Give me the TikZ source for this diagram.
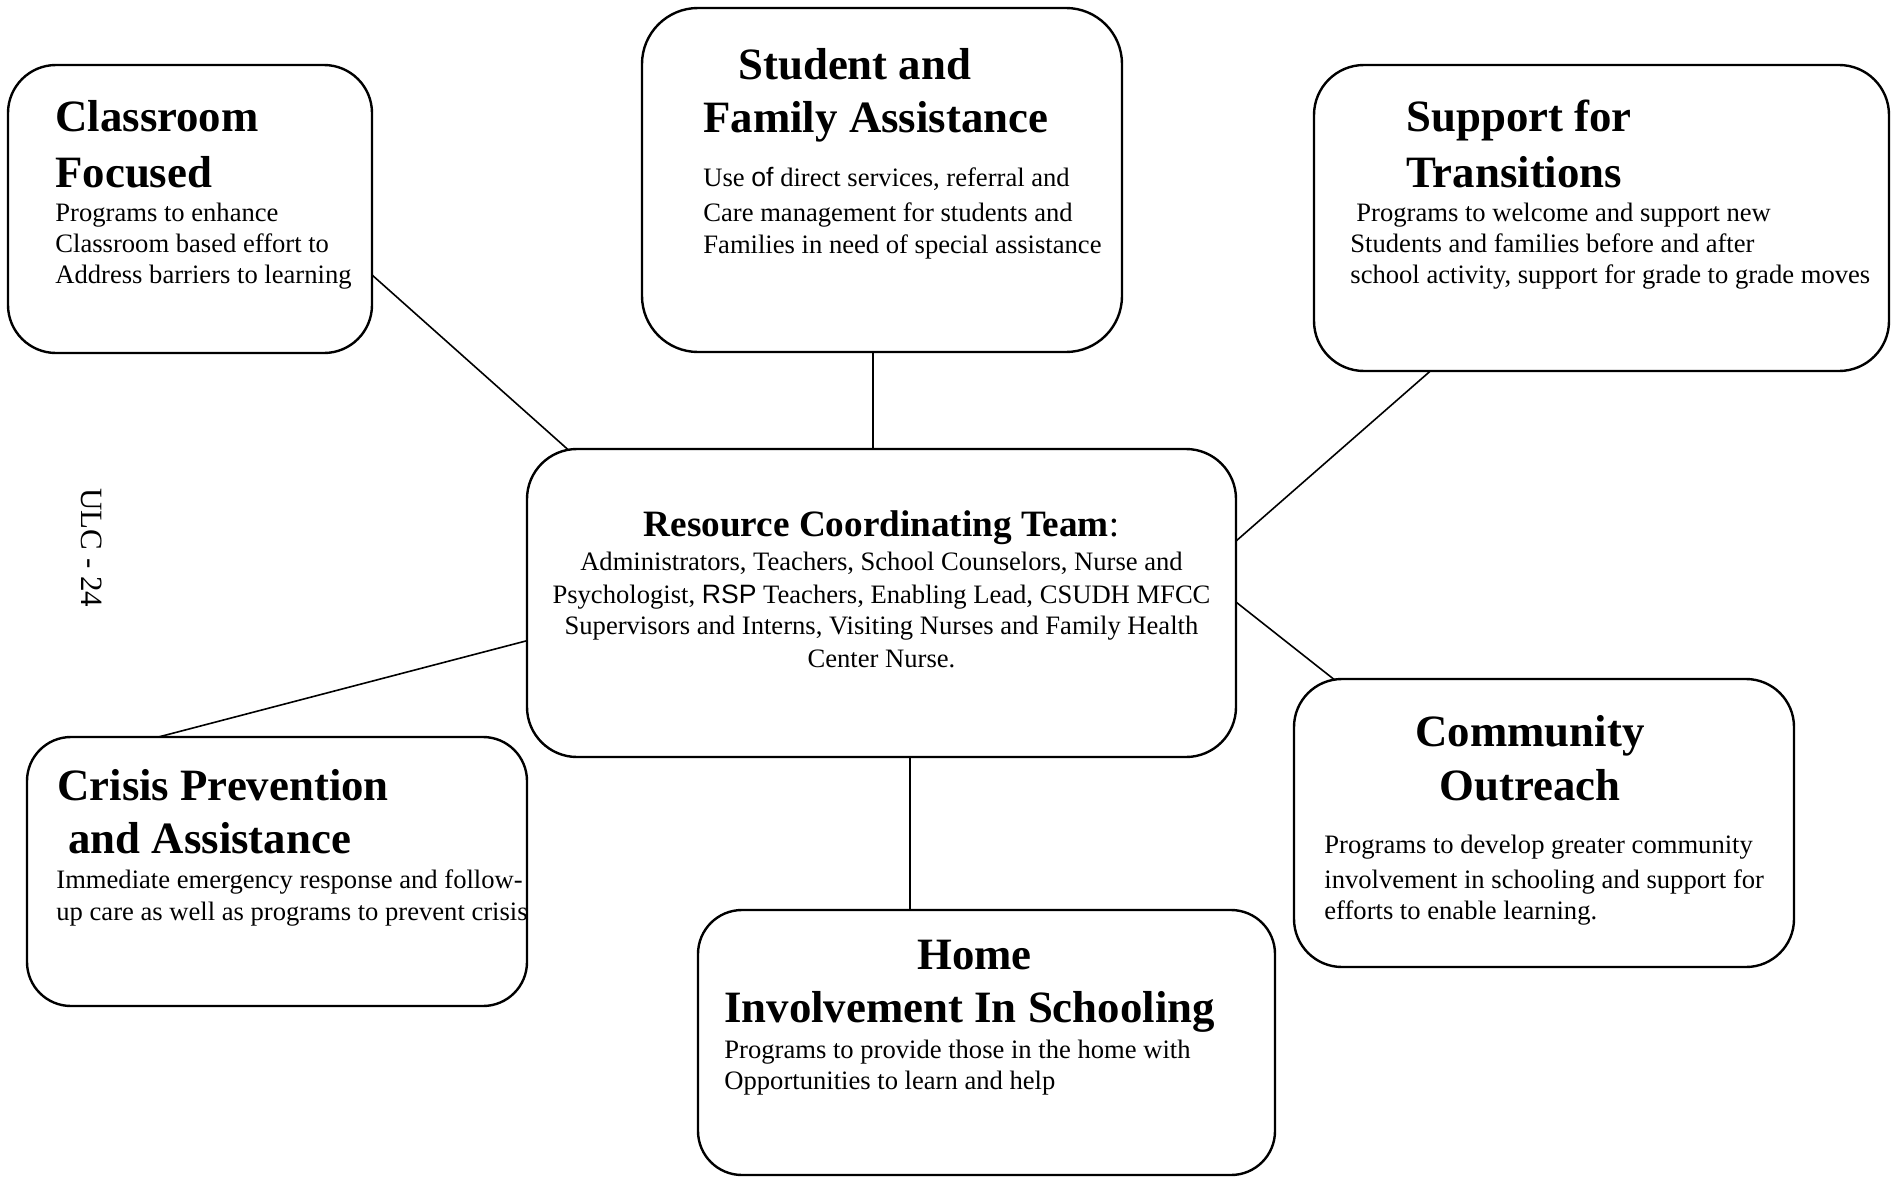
\documentclass[tikz,border=0pt]{standalone}
\usepackage{fontspec}
\setmainfont{Liberation Serif}
\newfontfamily\arialf{Liberation Sans}
\usetikzlibrary{backgrounds}
\begin{document}
\begin{tikzpicture}[x=0.5pt,y=-0.5pt,
  box/.style={draw, line width=1.2pt, fill=white, rectangle, inner sep=0pt},
  ttl/.style={font=\fontsize{22.4}{26}\selectfont\bfseries, anchor=base west, inner sep=0pt},
  ttlc/.style={ttl, anchor=base},
  bdy/.style={font=\fontsize{13.3}{15}\selectfont, anchor=base west, inner sep=0pt},
  bdyc/.style={bdy, anchor=base},
  link/.style={line width=0.8pt, shorten <=-3pt, shorten >=-3pt}]
\useasboundingbox (0,0) rectangle (1895,1177);
% boxes
\node[box, minimum width=182pt, minimum height=144pt, rounded corners=24pt] (cls) at (190,209) {};
\node[box, minimum width=240pt, minimum height=172pt, rounded corners=28pt] (stu) at (882,180) {};
\node[box, minimum width=287.5pt, minimum height=153pt, rounded corners=25pt] (sup) at (1601.5,218) {};
\node[box, minimum width=354.5pt, minimum height=154pt, rounded corners=25pt] (rct) at (881.5,603) {};
\node[box, minimum width=250pt, minimum height=134.5pt, rounded corners=22pt] (cri) at (277,871.5) {};
\node[box, minimum width=288.5pt, minimum height=132.5pt, rounded corners=22pt] (home) at (986.5,1042.5) {};
\node[box, minimum width=250pt, minimum height=144pt, rounded corners=24pt] (com) at (1544,823) {};
% connectors
\begin{scope}[on background layer]
\draw[link] ([yshift=-33.5pt]cls.east) -- ([xshift=-157.75pt]rct.north);
\draw[link] ([xshift=-4.5pt]stu.south) -- ([xshift=-4.25pt]rct.north);
\draw[link] ([xshift=-86.25pt]sup.south) -- ([yshift=31.5pt]rct.east);
\draw[link] ([xshift=-106pt]com.north) -- (rct.east);
\draw[link] ([xshift=-57pt]cri.north) -- ([yshift=-19pt]rct.west);
\draw[link] ([xshift=-38.25pt]home.north) -- ([xshift=14.25pt]rct.south);
\end{scope}
% Classroom Focused
\node[ttl] (cls-t1) at (55,132) {Classroom};
\node[ttl] (cls-t2) at (55,187) {Focused};
\node[bdy] (cls-b1) at (55,221) {Programs to enhance};
\node[bdy] (cls-b2) at (55,252) {Classroom based effort to};
\node[bdy] (cls-b3) at (55,283) {Address barriers to learning};
% Student and Family Assistance
\node[ttl] (stu-t1) at (738,80) {Student and};
\node[ttl] (stu-t2) at (703,133) {Family Assistance};
\node[bdy] (stu-b1) at (703,186) {Use {\arialf of} direct services, referral and};
\node[bdy] (stu-b2) at (703,221) {Care management for students and};
\node[bdy] (stu-b3) at (703,253) {Families in need of special assistance};
% Support for Transitions
\node[ttl] (sup-t1) at (1406,132) {Support for};
\node[ttl] (sup-t2) at (1406,187) {Transitions};
\node[bdy] (sup-b1) at (1356,221) {Programs to welcome and support new};
\node[bdy] (sup-b2) at (1350,252) {Students and families before and after};
\node[bdy] (sup-b3) at (1350,283) {school activity, support for grade to grade moves};
% Resource Coordinating Team
\node[bdyc, font=\fontsize{18.6}{22}\selectfont] (rct-t) at (881.5,536) {{\bfseries Resource Coordinating Team}:};
\node[bdyc] (rct-b1) at (881.5,570) {Administrators, Teachers, School Counselors, Nurse and};
\node[bdyc] (rct-b2) at (881.5,603) {Psychologist, {\arialf RSP} Teachers, Enabling Lead, CSUDH MFCC};
\node[bdyc] (rct-b3) at (881.5,634) {Supervisors and Interns, Visiting Nurses and Family Health};
\node[bdyc] (rct-b4) at (881.5,667) {Center Nurse.};
% Crisis Prevention and Assistance
\node[ttl] (cri-t1) at (57,800) {Crisis Prevention};
\node[ttl] (cri-t2) at (68,853) {and Assistance};
\node[bdy] (cri-b1) at (56,888) {Immediate emergency response and follow-};
\node[bdy] (cri-b2) at (56,920) {up care as well as programs to prevent crisis};
% Home Involvement In Schooling
\node[ttlc] (home-t1) at (974.5,969) {Home};
\node[ttl] (home-t2) at (724,1022) {Involvement In Schooling};
\node[bdy] (home-b1) at (724,1058) {Programs to provide those in the home with};
\node[bdy] (home-b2) at (724,1089) {Opportunities to learn and help};
% Community Outreach
\node[ttlc] (com-t1) at (1530,746) {Community};
\node[ttlc] (com-t2) at (1530,800) {Outreach};
\node[bdy] (com-b1) at (1324,853) {Programs to develop greater community};
\node[bdy] (com-b2) at (1324,888) {involvement in schooling and support for};
\node[bdy] (com-b3) at (1324,919) {efforts to enable learning.};
% side label
\node[font=\fontsize{15.5}{18}\selectfont, rotate=-90, inner sep=0pt] (ulc) at (92,548) {ULC - 24};
\end{tikzpicture}
\end{document}
